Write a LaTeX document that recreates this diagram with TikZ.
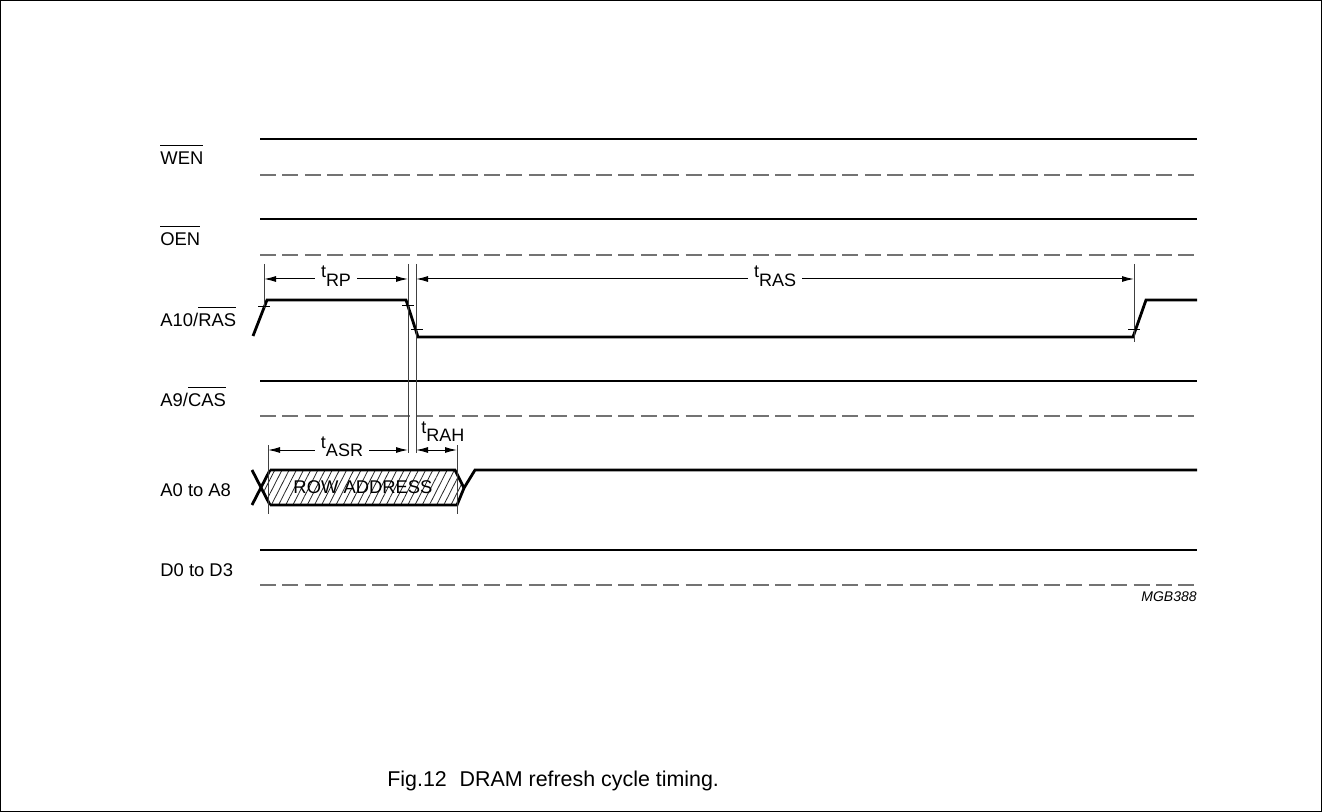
\documentclass[tikz,border=0pt]{standalone}
\usepackage{fontspec}
\setmainfont{Liberation Sans}
\usetikzlibrary{patterns.meta,arrows.meta}
\newcommand{\ovl}[1]{$\overline{\mbox{\rule{0pt}{8.4pt}#1}}$}
\newcommand{\tsub}[1]{\raisebox{4.5pt}{t}#1}
\begin{document}
\begin{tikzpicture}[x=0.5pt,y=-0.5pt,
 sig/.style={line width=1.4pt, line join=miter, line cap=butt},
 refl/.style={line width=0.55pt, dash pattern=on 8pt off 3.2pt, black!55},
 ext/.style={line width=0.5pt, black!75},
 dim/.style={line width=0.5pt, {Latex[length=6pt,width=3pt]}-{Latex[length=6pt,width=3pt]}},
 lbl/.style={anchor=base west, font=\fontsize{9.2}{11}\selectfont, inner sep=0pt},
 dimtxt/.style={anchor=base, font=\fontsize{9}{11}\selectfont, fill=white, inner xsep=3pt, inner ysep=1pt},
 tick/.style={line width=0.5pt}
]
\useasboundingbox (0,0) rectangle (1322,812);
\draw[line width=0.7pt] (0.5,0.5) rectangle (1321.5,811.5);

% labels
\node[lbl] (lwen) at (160,165) {\ovl{WEN}};
\node[lbl] (loen) at (160,246) {\ovl{OEN}};
\node[lbl] (lras) at (160,327) {A10/\ovl{RAS}};
\node[lbl] (lcas) at (160,407) {A9/\ovl{CAS}};
\node[lbl] (la0) at (160,496) {A0 to A8};
\node[lbl] (ld0) at (160,576) {D0 to D3};

% WEN, OEN, A9, D0 reference lines
\foreach \ys/\yd in {139/175, 219/255, 381/416, 550/585}{
  \draw[sig] (260,\ys) -- (1197,\ys);
  \draw[refl] (260,\yd) -- (1197,\yd);
}

% A10/RAS waveform
\draw[sig] (253,336) -- (267,300) -- (406,300) -- (418,337) -- (1133,337) -- (1146,300) -- (1197,300);

% A0 to A8 bus
\fill[pattern={Lines[angle=63,distance=3.2pt,line width=0.4pt]}, pattern color=black!85]
  (261,487.5) -- (270,470) -- (455,470) -- (464,488) -- (457,505) -- (270,505) -- cycle;
\draw[sig] (252,470) -- (270,505);
\draw[sig] (252,505) -- (270,470);
\draw[sig] (270,470) -- (455,470) -- (464,488) -- (475,470) -- (1197,470);
\draw[sig] (270,505) -- (457,505) -- (464,488);
\node[font=\fontsize{9.2}{11}\selectfont, inner sep=0pt, anchor=base] (row) at (363,494) {ROW ADDRESS};

% extension lines
\coordinate (e1t) at (264,264); \coordinate (e1b) at (264,308);
\coordinate (e2t) at (408,264); \coordinate (e2b) at (408,453);
\coordinate (e3t) at (416,264); \coordinate (e3b) at (416,453);
\coordinate (e4t) at (1134,264); \coordinate (e4b) at (1134,342);
\coordinate (e5t) at (268,445); \coordinate (e5b) at (268,514);
\coordinate (e6t) at (457,445); \coordinate (e6b) at (457,514);
\foreach \a/\b in {e1t/e1b,e2t/e2b,e3t/e3b,e4t/e4b,e5t/e5b,e6t/e6b}
  \draw[ext] (\a) -- (\b);

% ticks at crossings
\draw[tick] (258,307) -- (270,307);
\draw[tick] (402,306) -- (414,306);
\draw[tick] (411,330) -- (423,330);
\draw[tick] (1128,330) -- (1140,330);

% dimension arrows
\coordinate (rp1) at (264,279); \coordinate (rp2) at (408,279);
\coordinate (ras1) at (416,279); \coordinate (ras2) at (1134,279);
\coordinate (asr1) at (268,450); \coordinate (asr2) at (408,450);
\coordinate (rah1) at (416,450); \coordinate (rah2) at (457,450);
\draw[dim] (rp1) -- (rp2);
\draw[dim] (ras1) -- (ras2);
\draw[dim] (asr1) -- (asr2);
\draw[dim] (rah1) -- (rah2);
\node[dimtxt] (trp) at (336,287) {\tsub{RP}};
\node[dimtxt] (tras) at (775,287) {\tsub{RAS}};
\node[dimtxt] (tasr) at (342,457) {\tsub{ASR}};
\node[anchor=base west, font=\fontsize{9}{11}\selectfont, inner sep=0pt] (trah) at (421,442) {\tsub{RAH}};

% code and caption
\node[anchor=base east, font=\fontsize{7}{8}\selectfont\itshape, inner sep=0pt] (code) at (1197,601) {MGB388};
\node[anchor=base west, font=\fontsize{10.7}{12}\selectfont, inner sep=0pt] (cap) at (387,786) {Fig.12\hspace{0.6em}DRAM refresh cycle timing.};
\end{tikzpicture}
\end{document}
